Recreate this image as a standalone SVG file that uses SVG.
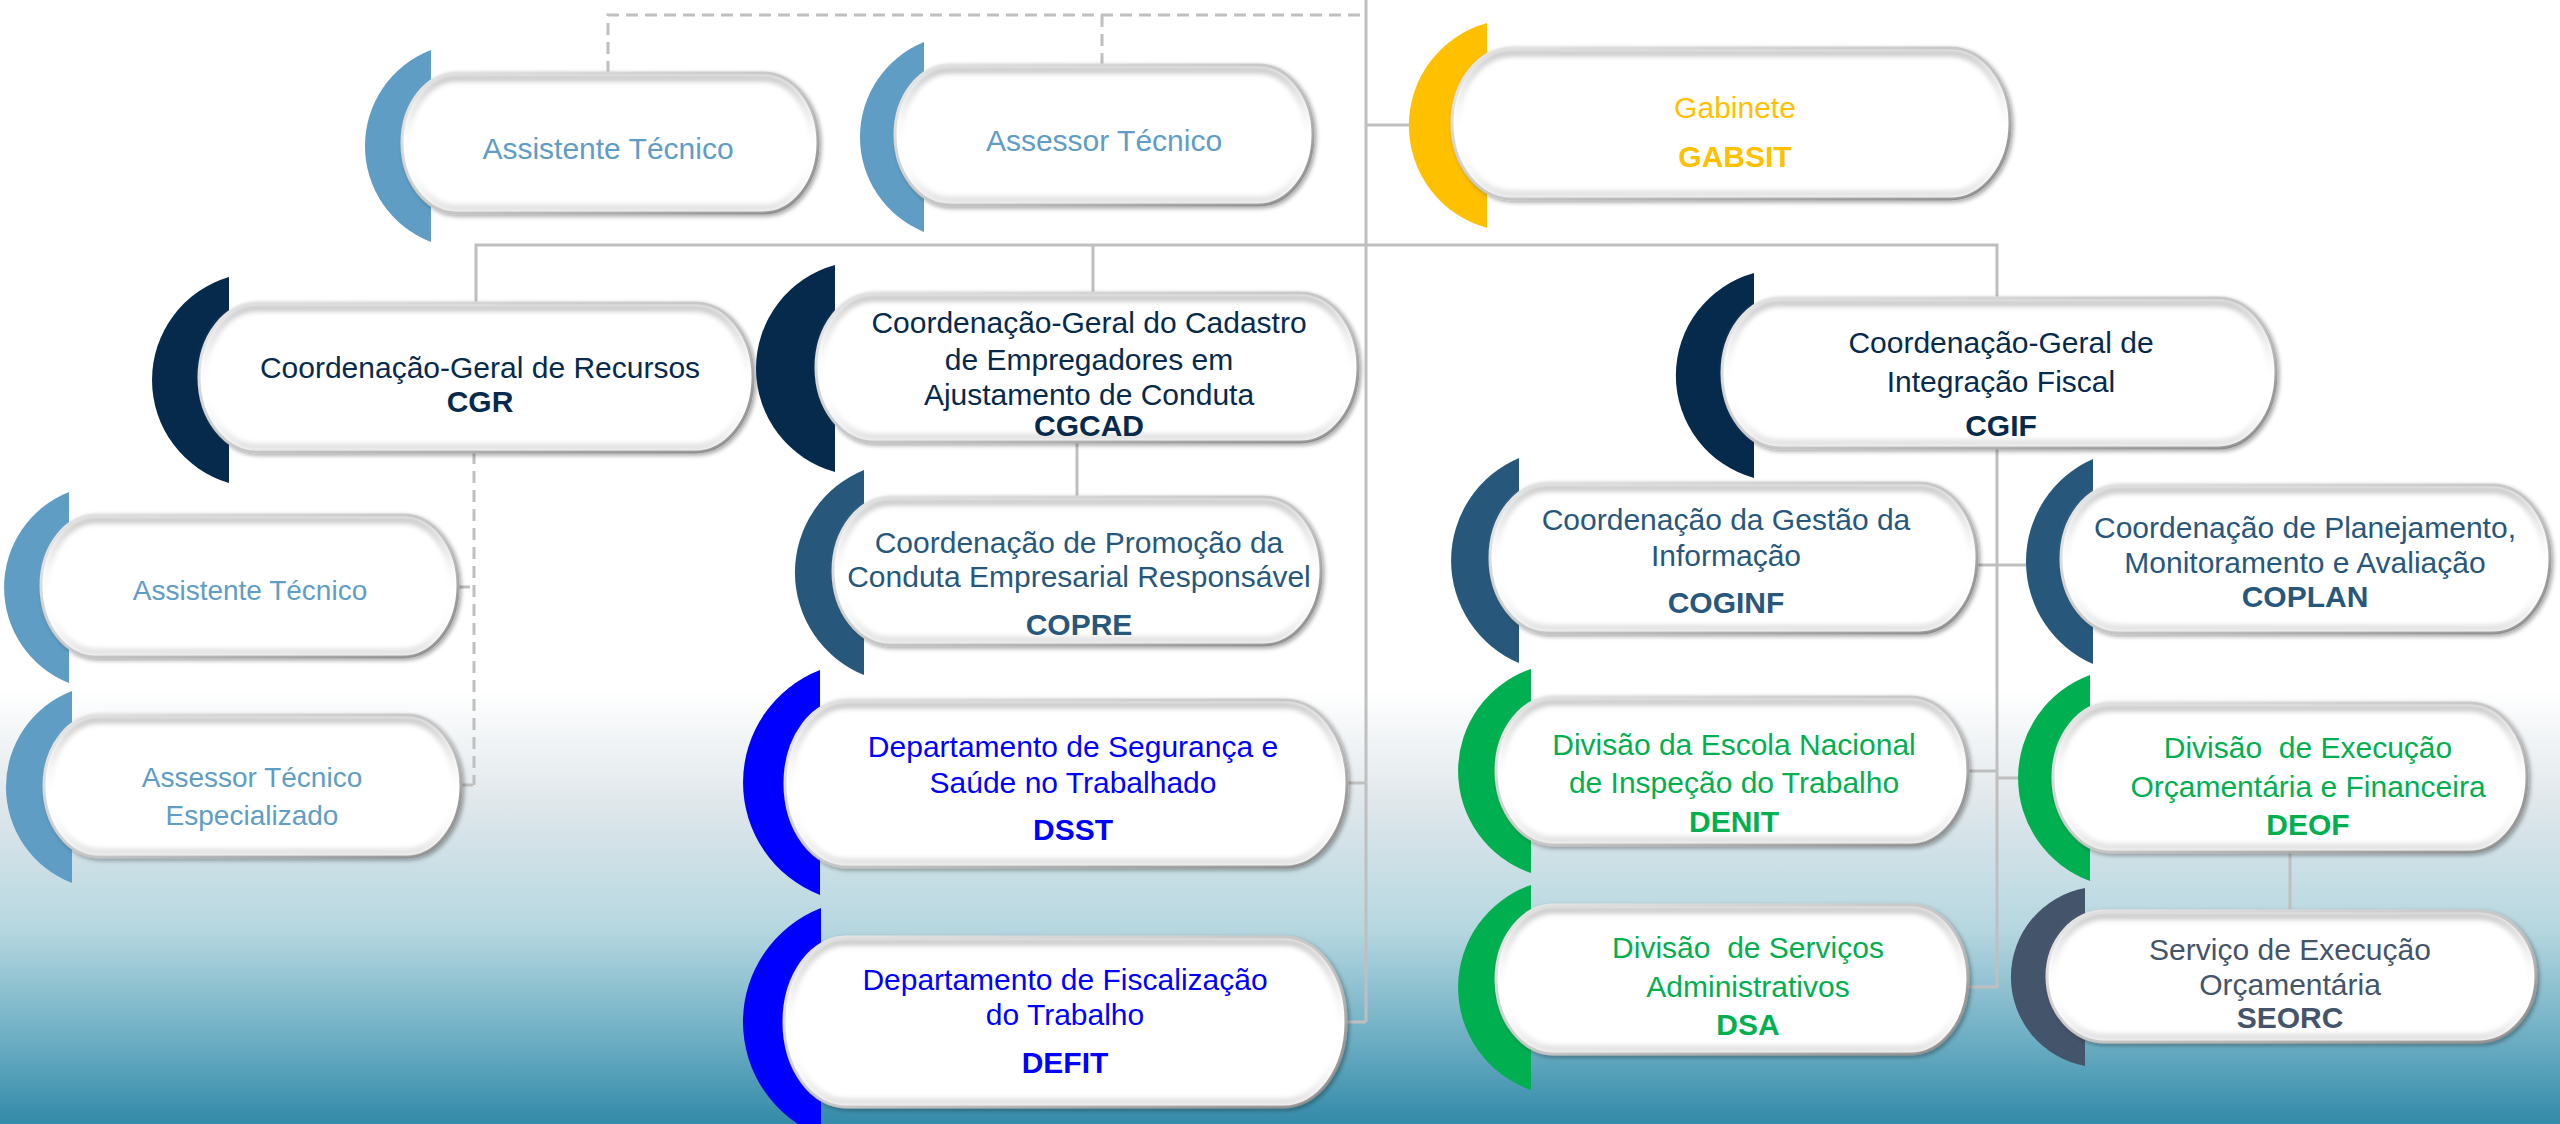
<svg xmlns="http://www.w3.org/2000/svg" width="2560" height="1124" viewBox="0 0 2560 1124">
<defs>
<linearGradient id="bg" x1="0" y1="690" x2="0" y2="1124" gradientUnits="userSpaceOnUse">
<stop offset="0" stop-color="#ffffff"/>
<stop offset="0.25" stop-color="#e1e8ec"/>
<stop offset="0.55" stop-color="#b6d7e0"/>
<stop offset="0.8" stop-color="#6eafc4"/>
<stop offset="1" stop-color="#338aa9"/>
</linearGradient>
<linearGradient id="edge" x1="0" y1="0" x2="1" y2="1">
<stop offset="0" stop-color="#f0f0f0"/>
<stop offset="0.55" stop-color="#c0c0c0"/>
<stop offset="1" stop-color="#7a7a7a"/>
</linearGradient>
<linearGradient id="bevel" x1="0" y1="0" x2="0" y2="1">
<stop offset="0" stop-color="#c8c8c8" stop-opacity="1"/>
<stop offset="0.3" stop-color="#e0e0e0" stop-opacity="0.6"/>
<stop offset="0.6" stop-color="#ffffff" stop-opacity="0"/>
<stop offset="1" stop-color="#d8d8d8" stop-opacity="0.8"/>
</linearGradient>
<filter id="sh" x="-5%" y="-10%" width="112%" height="125%">
<feDropShadow dx="2" dy="2" stdDeviation="2" flood-color="#000" flood-opacity="0.35"/>
</filter>
<filter id="bl" x="-5%" y="-10%" width="110%" height="120%">
<feGaussianBlur stdDeviation="2.5"/>
</filter>
<style>
.ln{stroke:#bfbfbf;stroke-width:3;fill:none}
.dl{stroke:#bfbfbf;stroke-width:3;fill:none;stroke-dasharray:12 7}
.box{fill:#ffffff;stroke:url(#edge);stroke-width:3;filter:url(#sh)}
.bev{fill:none;stroke:url(#bevel);stroke-width:7;filter:url(#bl)}
text{font-family:"Liberation Sans",Arial,sans-serif;font-size:30px;text-anchor:middle}
.b{font-weight:bold}
.cal{font-size:28px}
.lb{fill:#5f9dc5}
.nv{fill:#062a4c}
.mb{fill:#27587c}
.bl{fill:#0000ff}
.gr{fill:#00b050}
.sl{fill:#44546a}
.gd{fill:#ffc000}
</style>
</defs>
<rect x="0" y="0" width="2560" height="1124" fill="url(#bg)"/>

<g id="connectors">
<path class="dl" d="M608 73 V15 H1366"/>
<path class="dl" d="M1102 65 V15"/>
<path class="dl" d="M474 452 V785"/>
<path class="dl" d="M458 587 H474"/>
<path class="dl" d="M461 785 H474"/>
<path class="ln" d="M1366 0 V1022"/>
<path class="ln" d="M1366 125 H1409"/>
<path class="ln" d="M476 303 V245 H1997 V298"/>
<path class="ln" d="M1093 245 V293"/>
<path class="ln" d="M1077 442 V497"/>
<path class="ln" d="M1347 783 H1366"/>
<path class="ln" d="M1346 1022 H1366"/>
<path class="ln" d="M1997 448 V987 H1968"/>
<path class="ln" d="M1977 565 H2026"/>
<path class="ln" d="M1968 771 H1997"/>
<path class="ln" d="M1997 778 H2018"/>
<path class="ln" d="M2290 852 V911"/>
</g>

<g id="n-assistente-tecnico-1">
<path class="lb" d="M431 50 A102.8 102.8 0 0 0 431 242 Z"/>
<rect class="box" x="402" y="73" width="416" height="140" rx="55" ry="70"/>
<rect class="bev" x="407" y="78" width="406" height="130" rx="50" ry="65"/>
<text class="lb" x="608" y="159">Assistente Técnico</text>
</g>

<g id="n-assessor-tecnico-1">
<path class="lb" d="M924 42 A102.5 102.5 0 0 0 924 232 Z"/>
<rect class="box" x="895" y="65" width="418" height="140" rx="55" ry="70"/>
<rect class="bev" x="900" y="70" width="408" height="130" rx="50" ry="65"/>
<text class="lb" x="1104" y="151">Assessor Técnico</text>
</g>

<g id="n-gabsit">
<path class="gd" d="M1487 23 A106.3 106.3 0 0 0 1487 228 Z"/>
<rect class="box" x="1452" y="48" width="558" height="151" rx="60" ry="75.5"/>
<rect class="bev" x="1457" y="53" width="548" height="141" rx="55" ry="70.5"/>
<text class="gd" x="1735" y="118">Gabinete</text>
<text class="gd b" x="1735" y="167">GABSIT</text>
</g>

<g id="n-cgr">
<path class="nv" d="M229 277 A107.4 107.4 0 0 0 229 483 Z"/>
<rect class="box" x="199" y="303" width="554" height="149" rx="58" ry="74.5"/>
<rect class="bev" x="204" y="308" width="544" height="139" rx="53" ry="69.5"/>
<text class="nv" x="480" y="378">Coordenação-Geral de Recursos</text>
<text class="nv b" x="480" y="412">CGR</text>
</g>

<g id="n-cgcad">
<path class="nv" d="M835 265 A107.3 107.3 0 0 0 835 472 Z"/>
<rect class="box" x="816" y="293" width="542" height="149" rx="58" ry="74.5"/>
<rect class="bev" x="821" y="298" width="532" height="139" rx="53" ry="69.5"/>
<text class="nv" x="1089" y="333">Coordenação-Geral do Cadastro</text>
<text class="nv" x="1089" y="370">de Empregadores em</text>
<text class="nv" x="1089" y="405">Ajustamento de Conduta</text>
<text class="nv b" x="1089" y="436">CGCAD</text>
</g>

<g id="n-cgif">
<path class="nv" d="M1754 273 A106.3 106.3 0 0 0 1754 478 Z"/>
<rect class="box" x="1722" y="298" width="554" height="150" rx="58" ry="75"/>
<rect class="bev" x="1727" y="303" width="544" height="140" rx="53" ry="70"/>
<text class="nv" x="2001" y="353">Coordenação-Geral de</text>
<text class="nv" x="2001" y="392">Integração Fiscal</text>
<text class="nv b" x="2001" y="436">CGIF</text>
</g>

<g id="n-assistente-tecnico-2">
<path class="lb" d="M69 492 A102.7 102.7 0 0 0 69 683 Z"/>
<rect class="box" x="41" y="515" width="417" height="142" rx="55" ry="71"/>
<rect class="bev" x="46" y="520" width="407" height="132" rx="50" ry="66"/>
<text class="lb cal" x="250" y="600">Assistente Técnico</text>
</g>

<g id="n-assessor-tecnico-especializado">
<path class="lb" d="M72 691 A102.8 102.8 0 0 0 72 883 Z"/>
<rect class="box" x="44" y="715" width="417" height="142" rx="55" ry="71"/>
<rect class="bev" x="49" y="720" width="407" height="132" rx="50" ry="66"/>
<text class="lb cal" x="252" y="787">Assessor Técnico</text>
<text class="lb cal" x="252" y="825">Especializado</text>
</g>

<g id="n-copre">
<path class="mb" d="M864 470 A110.6 110.6 0 0 0 864 675 Z"/>
<rect class="box" x="833" y="497" width="488" height="148" rx="58" ry="74"/>
<rect class="bev" x="838" y="502" width="478" height="138" rx="53" ry="69"/>
<text class="mb" x="1079" y="553">Coordenação de Promoção da</text>
<text class="mb" x="1079" y="587">Conduta Empresarial Responsável</text>
<text class="mb b" x="1079" y="635">COPRE</text>
</g>

<g id="n-dsst">
<path class="bl" d="M820 670 A120.7 120.7 0 0 0 820 895 Z"/>
<rect class="box" x="785" y="700" width="562" height="167" rx="62" ry="83.5"/>
<rect class="bev" x="790" y="705" width="552" height="157" rx="57" ry="78.5"/>
<text class="bl" x="1073" y="757">Departamento de Segurança e</text>
<text class="bl" x="1073" y="793">Saúde no Trabalhado</text>
<text class="bl b" x="1073" y="840">DSST</text>
</g>

<g id="n-defit">
<path class="bl" d="M821 908 A122.3 122.3 0 0 0 821 1136 Z"/>
<rect class="box" x="784" y="937" width="562" height="170" rx="62" ry="85"/>
<rect class="bev" x="789" y="942" width="552" height="160" rx="57" ry="80"/>
<text class="bl" x="1065" y="990">Departamento de Fiscalização</text>
<text class="bl" x="1065" y="1025">do Trabalho</text>
<text class="bl b" x="1065" y="1073">DEFIT</text>
</g>

<g id="n-coginf">
<path class="mb" d="M1519 458 A111.3 111.3 0 0 0 1519 663 Z"/>
<rect class="box" x="1490" y="483" width="487" height="150" rx="58" ry="75"/>
<rect class="bev" x="1495" y="488" width="477" height="140" rx="53" ry="70"/>
<text class="mb" x="1726" y="530">Coordenação da Gestão da</text>
<text class="mb" x="1726" y="566">Informação</text>
<text class="mb b" x="1726" y="613">COGINF</text>
</g>

<g id="n-coplan">
<path class="mb" d="M2093 459 A111.9 111.9 0 0 0 2093 664 Z"/>
<rect class="box" x="2061" y="485" width="489" height="148" rx="58" ry="74"/>
<rect class="bev" x="2066" y="490" width="479" height="138" rx="53" ry="69"/>
<text class="mb" x="2305" y="538">Coordenação de Planejamento,</text>
<text class="mb" x="2305" y="573">Monitoramento e Avaliação</text>
<text class="mb b" x="2305" y="607">COPLAN</text>
</g>

<g id="n-denit">
<path class="gr" d="M1531 669 A107.8 107.8 0 0 0 1531 873 Z"/>
<rect class="box" x="1496" y="697" width="472" height="148" rx="58" ry="74"/>
<rect class="bev" x="1501" y="702" width="462" height="138" rx="53" ry="69"/>
<text class="gr" x="1734" y="755">Divisão da Escola Nacional</text>
<text class="gr" x="1734" y="793">de Inspeção do Trabalho</text>
<text class="gr b" x="1734" y="832">DENIT</text>
</g>

<g id="n-deof">
<path class="gr" d="M2090 675 A109.7 109.7 0 0 0 2090 881 Z"/>
<rect class="box" x="2053" y="703" width="474" height="149" rx="58" ry="74.5"/>
<rect class="bev" x="2058" y="708" width="464" height="139" rx="53" ry="69.5"/>
<text class="gr" x="2308" y="758" xml:space="preserve">Divisão  de Execução</text>
<text class="gr" x="2308" y="797">Orçamentária e Financeira</text>
<text class="gr b" x="2308" y="835">DEOF</text>
</g>

<g id="n-dsa">
<path class="gr" d="M1531 885 A108.5 108.5 0 0 0 1531 1090 Z"/>
<rect class="box" x="1496" y="905" width="472" height="149" rx="58" ry="74.5"/>
<rect class="bev" x="1501" y="910" width="462" height="139" rx="53" ry="69.5"/>
<text class="gr" x="1748" y="958" xml:space="preserve">Divisão  de Serviços</text>
<text class="gr" x="1748" y="997">Administrativos</text>
<text class="gr b" x="1748" y="1035">DSA</text>
</g>

<g id="n-seorc">
<path class="sl" d="M2085 888 A90.5 90.5 0 0 0 2085 1066 Z"/>
<rect class="box" x="2047" y="911" width="489" height="131" rx="58" ry="65.5"/>
<rect class="bev" x="2052" y="916" width="479" height="121" rx="53" ry="60.5"/>
<text class="sl" x="2290" y="960">Serviço de Execução</text>
<text class="sl" x="2290" y="995">Orçamentária</text>
<text class="sl b" x="2290" y="1028">SEORC</text>
</g>
</svg>
